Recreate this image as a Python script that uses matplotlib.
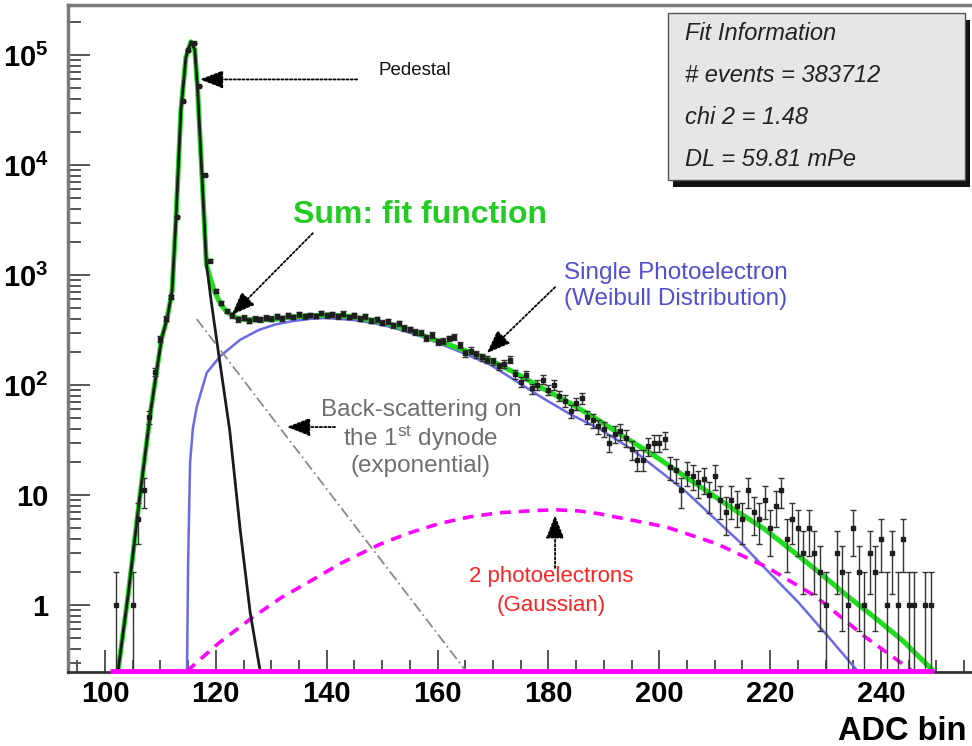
import numpy as np
import matplotlib
matplotlib.use('Agg')
import matplotlib.pyplot as plt
from matplotlib.patches import Rectangle
from matplotlib.ticker import FixedLocator, MultipleLocator, LogLocator, NullFormatter

plt.rcParams['font.family'] = ['Liberation Sans', 'DejaVu Sans']
plt.rcParams['mathtext.fontset'] = 'custom'
plt.rcParams['mathtext.rm'] = 'Liberation Sans'
plt.rcParams['mathtext.bf'] = 'Liberation Sans:bold'
plt.rcParams['mathtext.it'] = 'Liberation Sans:italic'

# histogram: counts per ADC bin (101 .. 250)
adc_bins = np.arange(101, 251)
counts = [
    0, 1, 0, 0, 1, 6, 11, 51, 132, 263,
    400, 630, 3400, 38000, 110000, 128000, 52000, 8100, 1350, 720,
    560, 470, 430, 395, 410, 385, 400, 395, 410, 400,
    420, 405, 430, 415, 440, 420, 435, 425, 450, 430,
    440, 420, 445, 415, 430, 400, 420, 385, 395, 370,
    380, 350, 365, 330, 320, 305, 300, 270, 285, 245,
    250, 265, 275, 230, 195, 205, 190, 180, 170, 165,
    148, 155, 170, 125, 107, 123, 93, 100, 112, 90,
    100, 80, 72, 58, 68, 76, 51, 48, 42, 40,
    30, 36, 38, 33, 26, 21, 21, 28, 30, 30,
    32, 18, 17, 11, 16, 15, 13, 14, 10, 15,
    9, 7, 9, 8, 6, 11, 7, 6, 9, 5,
    8, 11, 4, 6, 5, 3, 5, 3, 2, 1,
    0, 3, 2, 1, 5, 2, 1, 3, 2, 4,
    1, 3, 1, 4, 1, 1, 0, 1, 1, 0,
]

# fit components
ped_x = [102.35, 104.2, 106.2, 108.2, 110.2, 111.2, 112.1, 112.8, 113.7, 114.6,
         115.5, 116.2, 116.7, 117.5, 118.3, 119.2, 120.4, 122.5, 124.4, 126.2, 128.0]
ped_y = [0.25, 1.26, 8.9, 56, 263, 400, 710, 3160, 31600, 95500,
         132000, 112000, 50100, 7940, 1260, 562, 209, 38.9, 4.8, 0.85, 0.25]

sum_x = [102.35, 104.2, 106.2, 108.2, 110.2, 111.2, 112.1, 112.8, 113.7, 114.6,
         115.5, 116.2, 116.7, 117.5, 118.3, 119.0, 119.7, 120.7, 121.7, 123.2,
         125.0, 128.0, 131.0, 134.0, 137.0, 140.0, 143.0, 146.0, 149.0, 152.0,
         155.0, 158.0, 161.0, 164.0, 168.5, 174.0, 179.0, 184.0, 189.0, 194.0,
         199.0, 204.0, 209.0, 214.0, 219.0, 224.0, 229.0, 234.0, 239.0, 244.0, 249.5]
sum_y = [0.25, 1.26, 8.9, 56, 263, 400, 710, 3160, 31600, 95500,
         132000, 112000, 50100, 7940, 1260, 933, 724, 562, 479, 417,
         394, 389, 398, 417, 427, 432, 427, 407, 380, 351,
         316, 275, 243, 214, 178, 129, 93, 68, 48, 33,
         23, 15.5, 10.5, 7.1, 4.9, 3.1, 1.95, 1.2, 0.76, 0.47, 0.25]

spe_x = [114.8, 115.0, 115.35, 115.85, 116.55, 118.35, 120.75, 124.35, 127.7, 130.7,
         133.7, 136.7, 139.7, 142.7, 145.7, 148.7, 151.7, 154.7, 157.7, 160.7,
         163.7, 169.3, 174.0, 179.0, 184.0, 189.2, 195.2, 201.3, 205.0, 210.3,
         215.0, 219.3, 225.0, 230.0, 235.8]
spe_y = [0.25, 2.4, 19.5, 40, 63, 129, 182, 257, 316, 355,
         380, 398, 407, 398, 385, 363, 335, 302, 269, 234,
         204, 155, 110, 76, 54, 40, 25.7, 14.8, 10.5, 5.9,
         3.55, 2.1, 1.07, 0.55, 0.25]

pe2_x = [114.75, 120.5, 126.75, 131.6, 137.5, 142.6, 149.5, 154.6, 160.3, 165.6,
         171.1, 178.3, 181.5, 185.5, 189.1, 195.1, 201.2, 210.2, 219.2, 228.2,
         237.2, 246.2]
pe2_y = [0.25, 0.45, 0.78, 1.15, 1.7, 2.4, 3.55, 4.47, 5.5, 6.3,
         6.9, 7.25, 7.33, 7.16, 6.76, 5.9, 5.13, 3.63, 2.24, 1.2,
         0.51, 0.24]

bs_x = [116.55, 165.15]
bs_y = [398, 0.25]

fit_lines = ['Fit Information', '# events = 383712', 'chi 2 = 1.48', 'DL = 59.81 mPe']

W, H = 972, 746
fig = plt.figure(figsize=(W / 100, H / 100), dpi=100, facecolor='white')
x_lo, x_hi = 93.33, 260.0
px_per_unit = 5.543
left_px, top_px, bot_px = 68, 5, 672
width_px = (x_hi - x_lo) * px_per_unit
ax = fig.add_axes([left_px / W, (H - bot_px) / H, width_px / W, (bot_px - top_px) / H])
ax.set_yscale('log')
ax.set_xlim(x_lo, x_hi)
ax.set_ylim(0.246, 2.85e5)

# fit components
ax.plot(spe_x, spe_y, color='#6a6ae6', lw=1.8, zorder=2)
ax.plot(pe2_x, pe2_y, color='#ff00ff', lw=2.6, ls=(0, (3, 2.2)), zorder=2)
ax.plot(bs_x, bs_y, color='#8a8a8a', lw=1.3, ls=(0, (6, 2, 1, 2)), zorder=2)
ax.plot(sum_x, sum_y, color='#1ede1e', lw=3.6, zorder=3, solid_capstyle='butt')
ax.plot(ped_x, ped_y, color='#1a1a1a', lw=2.0, zorder=4)

# histogram points with sqrt(N) errors
cnt = np.array(counts, dtype=float)
mask = cnt > 0
ax.errorbar(adc_bins[mask], cnt[mask], yerr=np.sqrt(cnt[mask]), fmt='s', ms=3.2,
            color='#1e1e1e', mec='#1e1e1e', ecolor='#333333', elinewidth=1.0,
            capsize=2.5, capthick=1.0, zorder=5)

# baseline along the bottom
ax.hlines(0.25, 100.9, 249.6, color='#ff00ff', lw=3.5, zorder=6, clip_on=False)

# frame
ax.spines['right'].set_visible(False)
ax.spines['left'].set_color('#7a7a7a')
ax.spines['left'].set_linewidth(2.5)
ax.spines['top'].set_color('#7a7a7a')
ax.spines['top'].set_linewidth(2.5)
ax.spines['bottom'].set_color('#333333')
ax.spines['bottom'].set_linewidth(2.0)

ax.xaxis.set_major_locator(FixedLocator([100, 120, 140, 160, 180, 200, 220, 240]))
ax.xaxis.set_minor_locator(MultipleLocator(5))
ax.yaxis.set_major_locator(FixedLocator([1, 10, 1e2, 1e3, 1e4, 1e5]))
ax.yaxis.set_minor_locator(LogLocator(base=10, subs=np.arange(2, 10)))
ax.yaxis.set_minor_formatter(NullFormatter())
ax.set_yticklabels(['1', '10', r'$\mathbf{10^{2}}$', r'$\mathbf{10^{3}}$',
                    r'$\mathbf{10^{4}}$', r'$\mathbf{10^{5}}$'])
ax.tick_params(which='both', direction='in', color='#555555', width=1.4,
               top=False, right=False)
ax.tick_params(which='major', length=16, labelsize=21)
ax.tick_params(which='minor', length=9)
ax.tick_params(axis='y', which='major', pad=14)
ax.tick_params(axis='x', which='major', pad=6)
for lab in ax.get_xticklabels() + ax.get_yticklabels():
    lab.set_fontweight('bold')

fig.text(838 / W, 1 - 731 / H, 'ADC bin', fontsize=23.5, fontweight='bold',
         ha='left', va='center')

# annotations
arrow = dict(arrowstyle='-|>,head_length=0.9,head_width=0.35', color='black',
             lw=1.3, linestyle=(0, (1.2, 1.2)), shrinkA=0, shrinkB=0, mutation_scale=16)
ax.annotate('', xy=(117.1, 6.0e4), xytext=(145.5, 6.0e4), arrowprops=arrow, zorder=7)
ax.text(149.3, 7.3e4, 'Pedestal', fontsize=13.5, color='#111111', ha='left', va='center')

ax.annotate('', xy=(122.85, 433), xytext=(137.5, 2400), arrowprops=arrow, zorder=7)
ax.text(133.9, 3510, 'Sum: fit function', fontsize=23, fontweight='bold',
        color='#22cc22', ha='left', va='center')

ax.annotate('', xy=(168.9, 195), xytext=(181.2, 776), arrowprops=arrow, zorder=7)
ax.text(203.0, 794, 'Single Photoelectron\n(Weibull Distribution)', fontsize=17.5,
        color='#4f4fd0', ha='center', va='center', linespacing=1.2)

ax.annotate('', xy=(132.8, 41.5), xytext=(141.5, 41.5), arrowprops=arrow, zorder=7)
ax.text(157.0, 33, 'Back-scattering on\nthe 1$^{\\rm st}$ dynode\n(exponential)',
        fontsize=17.5, color='#6e6e6e', ha='center', va='center', linespacing=1.1)

ax.annotate('', xy=(181.2, 6.58), xytext=(181.2, 2.17), arrowprops=arrow, zorder=7)
ax.text(180.5, 1.34, '2 photoelectrons\n(Gaussian)', fontsize=16,
        color='#ff2222', ha='center', va='center', linespacing=1.5)

# fit information box
bx0, by0, bx1, by1 = 668, 13, 965, 180
fig.add_artist(Rectangle(((bx0 + 5) / W, 1 - (by1 + 7) / H), (bx1 - bx0) / W, (by1 - by0) / H,
                         transform=fig.transFigure, facecolor='#111111', edgecolor='none'))
fig.add_artist(Rectangle((bx0 / W, 1 - by1 / H), (bx1 - bx0) / W, (by1 - by0) / H,
                         transform=fig.transFigure, facecolor='#e6e6e6',
                         edgecolor='#555555', lw=1.0))
for i, line in enumerate(fit_lines):
    fig.text(685 / W, 1 - (33 + 42 * i) / H, line, fontsize=17, style='italic',
             color='#222222', ha='left', va='center')

fig.savefig('out.png', dpi=100, facecolor='white')
